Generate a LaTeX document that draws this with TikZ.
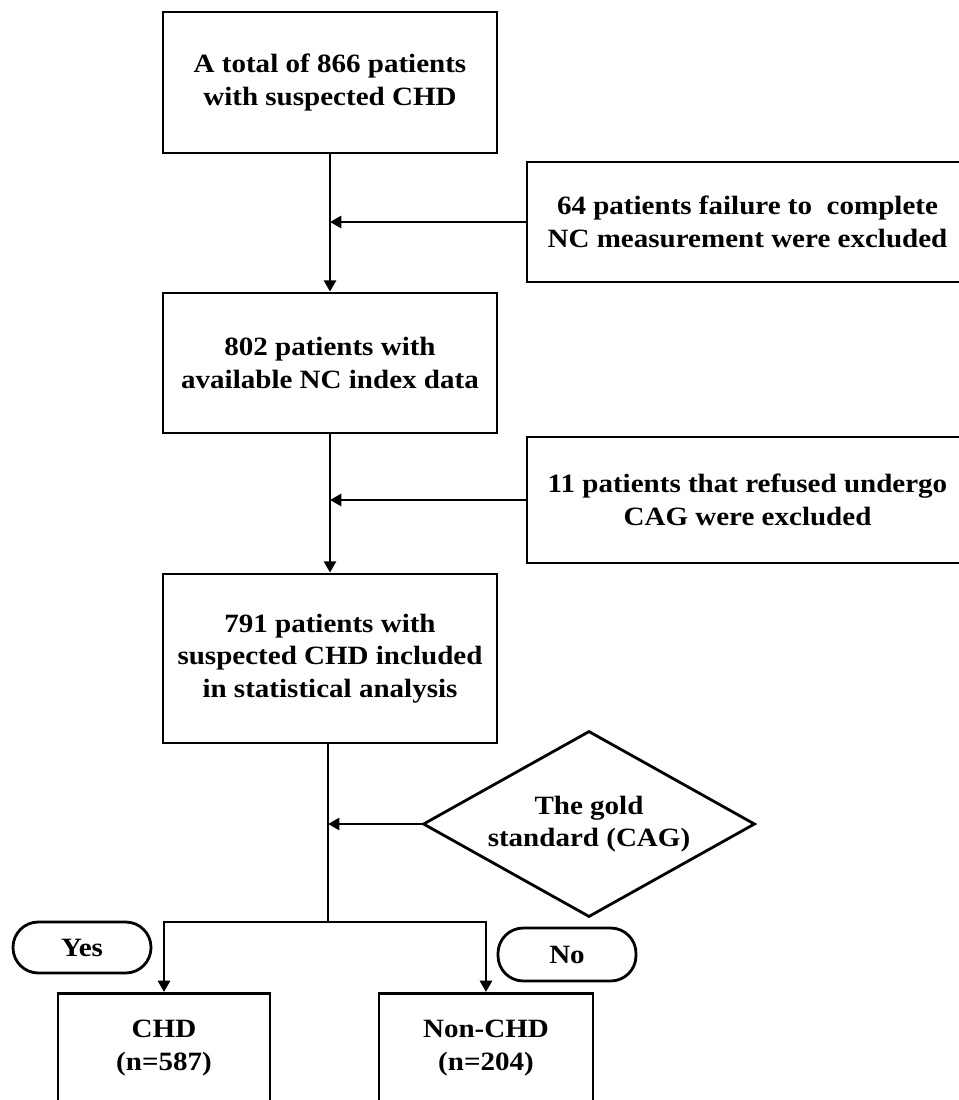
\documentclass[tikz,border=0pt]{standalone}
\usepackage{fontspec}
\setmainfont{Liberation Serif}[FakeStretch=1.1]
\usetikzlibrary{arrows.meta,shapes.geometric}
\begin{document}
\begin{tikzpicture}[x=0.75pt,y=-0.75pt,
  font=\fontsize{19.8pt}{24.5pt}\selectfont\bfseries,
  every node/.style={align=center, inner sep=0pt},
  box/.style={draw, line width=2.1pt, minimum width=250.5pt},
  sidebox/.style={draw, line width=2.1pt, minimum width=330.75pt},
  decision/.style={draw, line width=2.1pt, shape=diamond, aspect=1.785, minimum width=249pt, minimum height=139.5pt},
  pill/.style={draw, line width=2.1pt, rounded corners=19pt, minimum width=103.5pt},
  outbox/.style={draw, line width=2.1pt, minimum height=120pt, anchor=north},
  conn/.style={line width=2.1pt},
  arr/.style={line width=2.1pt, -{Triangle[length=8.5pt,width=9pt]}}
]
\useasboundingbox (0,0) rectangle (959,1100);
\clip (0,0) rectangle (959,1100);

\node[box, minimum height=105.75pt] (b1) at (330,82.5) {A total of 866 patients\\with suspected CHD};
\node[sidebox, minimum height=90pt] (b2) at (747.5,222) {64 patients failure to~ complete\\NC measurement were excluded};
\node[box, minimum height=105pt] (b3) at (330,363) {802 patients with\\available NC index data};
\node[sidebox, minimum height=94.5pt] (b4) at (747.5,500) {11 patients that refused undergo\\CAG were excluded};
\node[box, minimum height=126.75pt] (b5) at (330,658.5) {791 patients with\\suspected CHD included\\in statistical analysis};
\node[decision] (gold) at (589,824) {The gold\\standard (CAG)};

\node[pill, minimum height=38.25pt] (yes) at (82,947.5) {Yes};
\node[pill, minimum height=39.75pt] (no) at (567,954.5) {No};

\node[outbox, minimum width=159pt] (chd) at (164,992) {};
\node (chdtext) at (164,1048) {CHD\\(n=587)};
\node[outbox, minimum width=160.5pt] (nonchd) at (486,992) {};
\node (nonchdtext) at (486,1048) {Non-CHD\\(n=204)};

\coordinate (split) at (328,922);

\draw[arr] (b1.south) -- (b3.north);
\draw[arr] (b2.west) -- (b2.west -| b1.south);
\draw[arr] (b3.south) -- (b5.north);
\draw[arr] (b4.west) -- (b4.west -| b3.south);
\draw[conn] (b5.south -| split) -- (split);
\draw[arr] (gold.west) -- (gold.west -| split);
\draw[arr] (split) -| (chd.north);
\draw[arr] (split) -| (nonchd.north);
\end{tikzpicture}
\end{document}
